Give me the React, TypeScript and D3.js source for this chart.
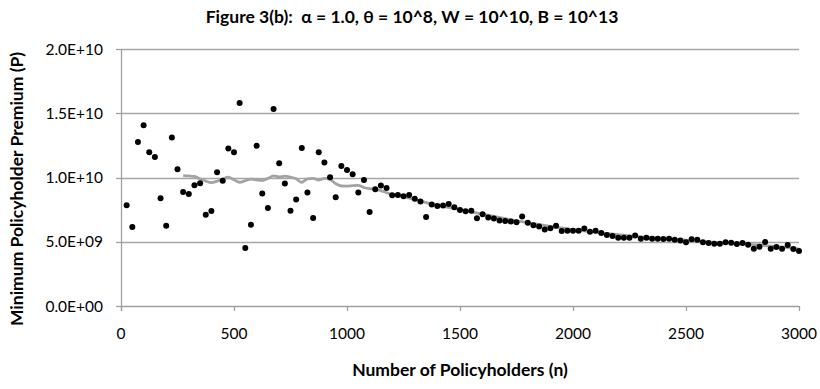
import React from "react";
import * as d3 from "d3";

// Number of policyholders (n) for each simulation run
const policyholders: number[] = [
  25, 50, 75, 100, 125, 150, 175, 200, 225, 250,
  275, 300, 325, 350, 375, 400, 425, 450, 475, 500,
  525, 550, 575, 600, 625, 650, 675, 700, 725, 750,
  775, 800, 825, 850, 875, 900, 925, 950, 975, 1000,
  1025, 1050, 1075, 1100, 1125, 1150, 1175, 1200, 1225, 1250,
  1275, 1300, 1325, 1350, 1375, 1400, 1425, 1450, 1475, 1500,
  1525, 1550, 1575, 1600, 1625, 1650, 1675, 1700, 1725, 1750,
  1775, 1800, 1825, 1850, 1875, 1900, 1925, 1950, 1975, 2000,
  2025, 2050, 2075, 2100, 2125, 2150, 2175, 2200, 2225, 2250,
  2275, 2300, 2325, 2350, 2375, 2400, 2425, 2450, 2475, 2500,
  2525, 2550, 2575, 2600, 2625, 2650, 2675, 2700, 2725, 2750,
  2775, 2800, 2825, 2850, 2875, 2900, 2925, 2950, 2975, 3000,
];

// Minimum policyholder premium, in units of 1e9
const premiumBillions: number[] = [
  7.84, 6.15, 12.77, 14.07, 11.97, 11.6, 8.39, 6.25, 13.11, 10.64,
  8.88, 8.72, 9.4, 9.55, 7.11, 7.4, 10.41, 9.74, 12.25, 11.97,
  15.79, 4.52, 6.33, 12.48, 8.75, 7.63, 15.34, 11.11, 9.53, 7.42,
  8.28, 12.3, 8.83, 6.85, 11.97, 11.16, 10.02, 8.47, 10.9, 10.59,
  10.26, 8.83, 9.81, 7.32, 9.09, 9.37, 9.19, 8.62, 8.64, 8.55,
  8.64, 8.35, 8.13, 6.92, 7.89, 7.79, 7.83, 7.93, 7.69, 7.47,
  7.37, 7.41, 6.83, 7.14, 6.88, 6.8, 6.65, 6.61, 6.58, 6.52,
  6.96, 6.47, 6.28, 6.19, 5.95, 6.06, 6.24, 5.84, 5.85, 5.85,
  5.85, 6.03, 5.78, 5.86, 5.69, 5.53, 5.45, 5.31, 5.32, 5.32,
  5.48, 5.24, 5.32, 5.24, 5.24, 5.22, 5.24, 5.15, 5.09, 4.96,
  5.19, 5.16, 4.96, 4.91, 4.85, 4.85, 4.96, 4.93, 4.83, 4.91,
  4.77, 4.45, 4.62, 4.98, 4.45, 4.6, 4.45, 4.75, 4.44, 4.28,
];

// Smoothed premium curve (grey line): n positions and values in units of 1e9
const trendN: number[] = [
  275, 300, 325, 350, 375, 400, 425, 450, 475, 500,
  525, 550, 575, 600, 625, 650, 675, 700, 725, 750,
  775, 800, 825, 850, 875, 900, 925, 950, 975, 1000,
  1025, 1050, 1075, 1100, 1125, 1150, 1175, 1200, 1225, 1300,
  1400, 1500, 1600, 1700, 1800, 1900, 2000, 2100, 2200, 2300,
  2400, 2500, 2600, 2700, 2800, 2900, 3000,
];
const trendBillions: number[] = [
  10.15, 10.12, 10.08, 9.9, 9.72, 9.6, 9.72, 9.88, 10.02, 9.82,
  9.63, 9.75, 9.88, 9.82, 9.76, 9.93, 10.12, 10.04, 10.1, 10.03,
  9.9, 9.62, 9.9, 9.93, 9.8, 9.93, 9.85, 9.52, 9.34, 9.33,
  9.37, 9.38, 9.22, 9.13, 9.1, 8.98, 8.82, 8.68, 8.6, 8.28,
  7.85, 7.5, 7.15, 6.8, 6.48, 6.2, 5.95, 5.75, 5.55, 5.38,
  5.25, 5.12, 4.98, 4.9, 4.78, 4.62, 4.45,
];

const xTicks: number[] = [0, 500, 1000, 1500, 2000, 2500, 3000];
const yTicks: number[] = [0, 5e9, 1e10, 1.5e10, 2e10];

const titleText = "Figure 3(b):  α = 1.0, θ = 10^8, W = 10^10, B = 10^13";
const xTitle = "Number of Policyholders (n)";
const yTitle = "Minimum Policyholder Premium (P)";

const W = 820;
const H = 389;
const plot = { left: 121, right: 799, top: 49, bottom: 306 };
const FONT = "Lato, 'Open Sans', sans-serif";

// Excel-style scientific notation: 5.0E+09
function sci(v: number): string {
  const [mant, exp] = v.toExponential(1).split("e");
  const sign = exp[0] === "-" ? "-" : "+";
  const digits = exp.replace(/[+-]/, "").padStart(2, "0");
  return `${mant}E${sign}${digits}`;
}

type Pt = { n: number; p: number };

export default function App() {
  const x = d3.scaleLinear().domain([0, 3000]).range([plot.left, plot.right]);
  const y = d3.scaleLinear().domain([0, 2e10]).range([plot.bottom, plot.top]);

  const points: Pt[] = policyholders.map((n, i) => ({ n, p: premiumBillions[i] * 1e9 }));
  const trend: Pt[] = trendN.map((n, i) => ({ n, p: trendBillions[i] * 1e9 }));

  const line = d3
    .line<Pt>()
    .x((d) => x(d.n))
    .y((d) => y(d.p))
    .curve(d3.curveMonotoneX);

  const gridColor = "#a6a6a6";
  const axisColor = "#a0a0a0";
  const snap = (v: number) => Math.round(v) + 0.5;

  return (
    <svg
      width={W}
      height={H}
      style={{ position: "absolute", left: 0, top: 0, background: "#fff" }}
      fontFamily={FONT}
    >
      <rect x={0} y={0} width={W} height={H} fill="#fff" />

      <text
        x={412}
        y={23}
        textAnchor="middle"
        fontSize={17.5}
        fontWeight="bold"
        fill="#000"
        style={{ whiteSpace: "pre" }}
      >
        {titleText}
      </text>

      {/* horizontal gridlines */}
      {yTicks.map((t) => (
        <line
          key={`g${t}`}
          x1={plot.left}
          x2={plot.right}
          y1={snap(y(t))}
          y2={snap(y(t))}
          stroke={t === 0 ? axisColor : gridColor}
          strokeWidth={1.3}
        />
      ))}

      {/* y axis */}
      <line
        x1={plot.left + 0.5}
        x2={plot.left + 0.5}
        y1={plot.top}
        y2={plot.bottom + 5}
        stroke={axisColor}
        strokeWidth={1.3}
      />
      {yTicks.map((t) => (
        <g key={`y${t}`}>
          <line
            x1={plot.left - 5}
            x2={plot.left}
            y1={snap(y(t))}
            y2={snap(y(t))}
            stroke={axisColor}
            strokeWidth={1.3}
          />
          <text x={plot.left - 18} y={y(t) + 5.5} textAnchor="end" fontSize={15.5} fill="#000">
            {sci(t)}
          </text>
        </g>
      ))}

      {/* x axis ticks */}
      {xTicks.map((t) => (
        <g key={`x${t}`}>
          <line
            x1={snap(x(t))}
            x2={snap(x(t))}
            y1={plot.bottom}
            y2={plot.bottom + 5}
            stroke={axisColor}
            strokeWidth={1.3}
          />
          <text x={x(t)} y={339} textAnchor="middle" fontSize={15.5} fill="#000">
            {t}
          </text>
        </g>
      ))}

      {/* smoothed premium curve */}
      <path d={line(trend) || ""} fill="none" stroke="#a3a3a3" strokeWidth={2.8} strokeLinejoin="round" />

      {/* data points */}
      {points.map((d) => (
        <circle key={d.n} cx={x(d.n)} cy={y(d.p)} r={3} fill="#000" />
      ))}

      <text x={(plot.left + plot.right) / 2} y={376} textAnchor="middle" fontSize={17.5} fontWeight="bold" fill="#000">
        {xTitle}
      </text>
      <text
        transform={`translate(23, 189) rotate(-90)`}
        textAnchor="middle"
        fontSize={17.5}
        fontWeight="bold"
        fill="#000"
      >
        {yTitle}
      </text>
    </svg>
  );
}
